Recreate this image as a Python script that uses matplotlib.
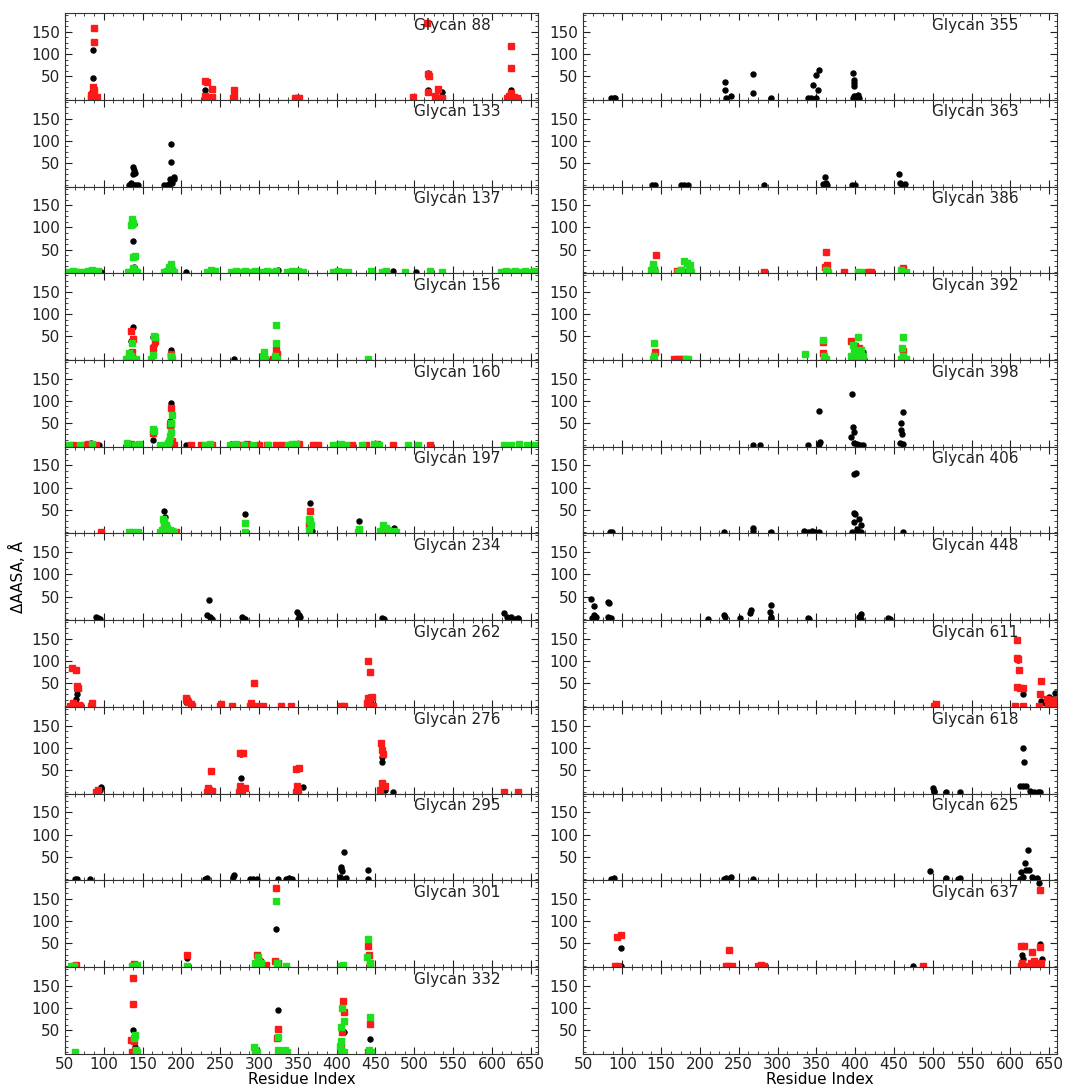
import matplotlib
matplotlib.use('Agg')
import matplotlib.pyplot as plt
from matplotlib.ticker import MultipleLocator

# ---- data: (residue index, delta AASA) per glycan, black / red / green series ----
left_glycans = [88, 133, 137, 156, 160, 197, 234, 262, 276, 295, 301, 332]
right_glycans = [355, 363, 386, 392, 398, 406, 448, 611, 618, 625, 637]

g88_k = [(86, 108), (86, 45), (85, 15), (87, 5), (231, 18), (268, 12), (518, 58), (518, 20), (536, 15), (625, 18), (632, 2)]
g88_r = [(87, 158), (87, 127), (86, 25), (88, 20), (84, 8), (86, 2), (83, 0), (89, 0), (91, 3), (231, 40), (233, 38),
         (230, 5), (232, 0), (240, 22), (239, 3), (268, 18), (268, 3), (267, 0), (346, 2), (349, 0), (351, 2), (498, 3),
         (517, 170), (518, 55), (519, 50), (518, 15), (531, 22), (527, 5), (529, 0), (533, 0), (536, 2), (625, 118),
         (625, 68), (624, 12), (622, 5), (620, 0), (626, 0), (629, 3), (632, 0)]
g88_g = []

g133_k = [(137, 40), (139, 35), (138, 25), (140, 28), (135, 5), (132, 0), (135, 0), (139, 0), (142, 0), (144, 0),
          (186, 93), (186, 52), (185, 15), (190, 18), (178, 0), (181, 0), (184, 2), (188, 5), (190, 15)]
g133_r = []
g133_g = []

g137_k = [(137, 70), (139, 108), (139, 12), (97, 0), (206, 0), (324, 5), (473, 2), (502, 0), (640, 0)]
g137_r = []
g137_g = [(136, 118), (135, 105), (137, 110), (138, 33), (140, 35), (137, 8), (134, 0), (140, 2), (143, 0), (131, 0),
          (186, 18), (184, 10), (178, 0), (181, 2), (188, 5), (190, 0), (55, 0), (60, 2), (65, 0), (68, 0), (75, 0),
          (80, 2), (85, 5), (88, 0), (92, 2), (233, 0), (238, 5), (243, 2), (264, 0), (270, 2), (277, 0), (282, 2),
          (288, 0), (295, 3), (305, 0), (310, 2), (316, 0), (322, 3), (336, 0), (342, 2), (350, 3), (356, 0), (395, 0),
          (402, 2), (408, 0), (414, 0), (444, 2), (458, 0), (463, 2), (488, 0), (520, 2), (536, 0), (612, 0), (618, 2),
          (624, 0), (630, 3), (636, 0), (642, 2), (648, 0), (654, 2), (659, 0)]

g156_k = [(137, 72), (135, 40), (163, 48), (165, 30), (186, 20), (268, 0), (322, 30)]
g156_r = [(135, 62), (137, 45), (136, 15), (134, 5), (130, 0), (138, 0), (163, 25), (166, 40), (186, 10), (187, 5),
          (322, 20), (323, 10), (318, 0)]
g156_g = [(136, 35), (133, 12), (135, 5), (139, 0), (142, 0), (128, 0), (165, 50), (166, 48), (163, 8), (161, 0),
          (186, 5), (188, 0), (306, 15), (305, 5), (308, 0), (322, 75), (322, 35), (321, 5), (323, 0), (440, 0)]

g160_k = [(186, 95), (185, 55), (164, 12), (84, 5), (94, 0), (206, 0), (650, 0), (264, 3)]
g160_r = [(186, 85), (187, 48), (185, 45), (188, 10), (164, 28), (60, 0), (75, 0), (80, 2), (90, 0), (135, 2), (190, 0),
          (212, 0), (225, 0), (240, 0), (275, 0), (285, 2), (300, 0), (310, 0), (322, 0), (330, 0), (352, 2), (370, 0),
          (376, 0), (402, 0), (420, 0), (438, 0), (452, 2), (472, 0), (520, 0)]
g160_g = [(164, 37), (165, 32), (188, 68), (187, 50), (186, 30), (185, 20), (184, 10), (183, 5), (180, 0), (55, 0),
          (70, 0), (85, 3), (130, 5), (140, 0), (145, 2), (172, 0), (230, 0), (237, 2), (262, 0), (270, 2), (280, 0),
          (292, 0), (312, 0), (337, 0), (342, 3), (348, 2), (395, 0), (405, 2), (412, 0), (432, 0), (448, 3), (455, 0),
          (492, 0), (505, 0), (615, 0), (625, 0), (635, 2), (645, 0), (655, 0)]

g197_k = [(177, 48), (179, 35), (282, 40), (366, 65), (368, 3), (429, 25), (474, 10)]
g197_r = [(97, 0), (178, 10), (180, 5), (193, 0), (366, 48), (365, 15), (460, 0)]
g197_g = [(133, 0), (138, 0), (144, 0), (176, 30), (177, 25), (178, 20), (180, 15), (182, 10), (175, 5), (173, 0),
          (185, 5), (188, 2), (190, 0), (282, 20), (282, 0), (365, 30), (366, 25), (367, 15), (364, 5), (429, 8),
          (428, 0), (456, 3), (460, 15), (463, 10), (466, 5), (470, 0), (474, 2), (476, 0)]

g234_k = [(90, 5), (92, 2), (95, 0), (233, 8), (235, 42), (237, 5), (240, 0), (278, 5), (280, 0), (282, 0), (349, 15),
          (351, 8), (353, 5), (350, 0), (459, 2), (461, 0), (616, 12), (620, 5), (625, 3), (630, 0), (634, 2)]
g234_r = []
g234_g = []

g262_k = [(66, 35), (65, 25), (64, 15), (206, 8), (442, 20), (444, 5)]
g262_r = [(59, 85), (64, 80), (66, 45), (67, 40), (57, 0), (60, 5), (63, 0), (68, 2), (70, 0), (85, 5), (84, 0),
          (206, 18), (207, 12), (209, 8), (213, 3), (214, 0), (251, 3), (250, 0), (265, 0), (293, 50), (290, 5),
          (288, 0), (296, 0), (305, 0), (328, 0), (341, 0), (405, 0), (409, 0), (441, 100), (443, 75), (440, 18),
          (442, 15), (439, 5), (440, 0), (446, 20), (447, 0)]
g262_g = []

g276_k = [(97, 12), (95, 5), (233, 0), (277, 85), (277, 33), (275, 10), (356, 12), (349, 0), (458, 80), (459, 68),
          (462, 5), (473, 0)]
g276_r = [(90, 0), (92, 5), (238, 48), (234, 10), (236, 5), (233, 0), (240, 3), (275, 88), (279, 88), (276, 15),
          (278, 5), (274, 0), (282, 10), (348, 52), (352, 55), (349, 15), (350, 5), (347, 0), (457, 110), (459, 95),
          (460, 85), (458, 20), (462, 15), (456, 5), (616, 0), (634, 0)]
g276_g = []

g295_k = [(63, 0), (65, 0), (82, 0), (231, 0), (233, 2), (268, 10), (267, 5), (288, 0), (292, 0), (297, 0), (324, 0),
          (335, 0), (338, 3), (342, 0), (404, 5), (405, 28), (406, 22), (407, 18), (409, 60), (410, 0), (412, 2),
          (440, 20), (440, 0)]
g295_r = []
g295_g = []

g301_k = [(207, 18), (300, 15), (302, 10), (322, 82)]
g301_r = [(61, 0), (64, 2), (137, 0), (139, 3), (207, 25), (297, 25), (300, 10), (305, 0), (309, 2), (322, 175),
          (320, 10), (324, 5), (440, 45), (442, 25), (443, 5)]
g301_g = [(58, 0), (62, 0), (136, 0), (140, 0), (143, 2), (207, 0), (295, 5), (299, 20), (302, 5), (322, 145),
          (323, 5), (335, 0), (405, 0), (408, 2), (441, 60), (439, 20), (443, 5)]

g332_k = [(138, 50), (140, 12), (325, 95), (410, 45), (443, 30)]
g332_r = [(137, 168), (137, 108), (135, 28), (139, 25), (140, 5), (136, 0), (324, 52), (323, 32), (408, 115),
          (410, 92), (407, 45), (406, 10), (405, 0), (443, 65), (440, 0)]
g332_g = [(63, 0), (140, 40), (139, 32), (141, 5), (143, 0), (293, 12), (295, 5), (297, 0), (325, 35), (324, 5),
          (326, 0), (334, 5), (336, 0), (407, 100), (409, 70), (406, 58), (405, 25), (404, 15), (406, 5), (410, 0),
          (443, 80), (442, 5), (444, 0)]

g355_k = [(86, 0), (89, 2), (91, 0), (232, 38), (232, 18), (234, 2), (240, 5), (269, 55), (269, 12), (291, 0),
          (339, 2), (343, 0), (346, 30), (350, 52), (354, 65), (352, 18), (349, 0), (397, 58), (398, 42), (399, 35),
          (399, 28), (398, 5), (397, 0), (400, 3), (403, 8), (405, 2)]
g355_r = []
g355_g = []

g363_k = [(138, 0), (142, 0), (176, 0), (180, 0), (185, 0), (282, 0), (359, 2), (361, 18), (362, 5), (364, 0),
          (396, 0), (400, 0), (457, 25), (458, 5), (460, 0), (464, 2)]
g363_r = []
g363_g = []

g386_k = []
g386_r = [(143, 38), (141, 5), (175, 5), (170, 3), (180, 0), (282, 0), (363, 45), (364, 15), (361, 10), (385, 0),
          (416, 0), (420, 0), (461, 8)]
g386_g = [(139, 18), (140, 10), (137, 5), (138, 0), (142, 0), (172, 0), (176, 5), (180, 25), (183, 20), (187, 15),
          (189, 0), (186, 5), (362, 5), (365, 0), (403, 0), (407, 0), (459, 5), (461, 0), (465, 0)]

g392_k = [(405, 18), (410, 15), (412, 0), (399, 0)]
g392_r = [(142, 15), (167, 0), (170, 0), (174, 0), (178, 0), (358, 38), (358, 12), (360, 0), (395, 40), (400, 28),
          (405, 25), (462, 18)]
g392_g = [(141, 35), (141, 5), (139, 0), (185, 0), (182, 0), (335, 10), (359, 42), (360, 5), (363, 0), (397, 30),
          (398, 20), (400, 15), (402, 10), (395, 5), (404, 0), (403, 48), (407, 20), (410, 5), (461, 48), (460, 25),
          (462, 5), (459, 0), (465, 0)]

g398_k = [(269, 0), (277, 0), (339, 0), (353, 78), (355, 8), (354, 2), (396, 115), (395, 18), (397, 42), (399, 30),
          (398, 5), (402, 2), (406, 0), (410, 0), (459, 50), (459, 35), (460, 25), (458, 5), (462, 75), (462, 2)]
g398_r = []
g398_g = []

g406_k = [(84, 0), (87, 0), (231, 0), (269, 10), (269, 2), (291, 0), (334, 2), (339, 0), (344, 2), (348, 0),
          (354, 0), (399, 130), (401, 132), (398, 43), (400, 40), (405, 30), (399, 22), (407, 15), (402, 8), (404, 3),
          (396, 0), (408, 0), (462, 0)]
g406_r = []
g406_g = []

g448_k = [(60, 45), (61, 2), (63, 28), (63, 8), (64, 0), (66, 5), (82, 38), (83, 35), (81, 5), (84, 0), (86, 2),
          (211, 0), (231, 8), (232, 3), (251, 2), (266, 20), (265, 12), (291, 30), (290, 15), (292, 5), (291, 0),
          (339, 2), (341, 0), (407, 10), (405, 5), (408, 0), (442, 2), (445, 0)]
g448_r = []
g448_g = []

g611_k = [(610, 102), (611, 40), (616, 25), (640, 10), (650, 20), (655, 15), (658, 28), (645, 5)]
g611_r = [(502, 0), (504, 3), (609, 148), (609, 108), (610, 105), (611, 80), (609, 42), (612, 40), (606, 0),
          (616, 40), (616, 0), (640, 55), (638, 25), (637, 0), (647, 15), (650, 10), (653, 5), (656, 12), (659, 8),
          (649, 0), (655, 0), (660, 2)]
g611_g = []

g618_k = [(500, 10), (501, 2), (502, 0), (517, 0), (535, 0), (616, 100), (617, 68), (612, 15), (616, 15), (620, 15),
          (625, 2), (630, 0), (635, 0), (638, 0)]
g618_r = []
g618_g = []

g625_k = [(86, 0), (89, 2), (231, 0), (234, 2), (240, 5), (269, 0), (497, 18), (517, 3), (533, 0), (535, 2),
          (614, 15), (616, 5), (612, 0), (619, 35), (620, 20), (623, 65), (624, 20), (628, 5), (632, 0), (634, 2)]
g625_r = []
g625_g = []

g637_k = [(98, 40), (98, 0), (474, 0), (615, 25), (616, 15), (638, 48), (637, 186), (641, 15), (630, 3)]
g637_r = [(93, 65), (98, 68), (91, 0), (95, 0), (233, 0), (238, 35), (236, 0), (241, 0), (275, 0), (279, 2),
          (283, 0), (488, 0), (614, 45), (617, 45), (615, 5), (613, 0), (620, 0), (628, 30), (630, 10), (626, 5),
          (638, 170), (638, 42), (640, 5), (633, 0)]
g637_g = []

left_data = [(g88_k, g88_r, g88_g), (g133_k, g133_r, g133_g), (g137_k, g137_r, g137_g), (g156_k, g156_r, g156_g),
             (g160_k, g160_r, g160_g), (g197_k, g197_r, g197_g), (g234_k, g234_r, g234_g), (g262_k, g262_r, g262_g),
             (g276_k, g276_r, g276_g), (g295_k, g295_r, g295_g), (g301_k, g301_r, g301_g), (g332_k, g332_r, g332_g)]
right_data = [(g355_k, g355_r, g355_g), (g363_k, g363_r, g363_g), (g386_k, g386_r, g386_g), (g392_k, g392_r, g392_g),
              (g398_k, g398_r, g398_g), (g406_k, g406_r, g406_g), (g448_k, g448_r, g448_g), (g611_k, g611_r, g611_g),
              (g618_k, g618_r, g618_g), (g625_k, g625_r, g625_g), (g637_k, g637_r, g637_g)]

styles = [('black', 'o', 3.6), ('#ff1a1a', 's', 3.8), ('#1fe01f', 's', 3.8)]


def draw_panel(ax, glycan, series):
    for pts, (color, marker, ms) in zip(series, styles):
        if not pts:
            continue
        xs, ys = zip(*pts)
        ax.plot(xs, ys, linestyle='none', marker=marker, color=color, ms=ms, mec=color)
    ax.text(0.737, 0.86, 'Glycan %d' % glycan, transform=ax.transAxes, fontsize=11, va='center', color='#222222')


fig, axes = plt.subplots(12, 2, figsize=(10.65, 10.92), dpi=100, sharex=True)
fig.subplots_adjust(left=0.061, right=0.9925, top=0.988, bottom=0.035, hspace=0, wspace=0.095)

for i in range(12):
    draw_panel(axes[i, 0], left_glycans[i], left_data[i])
    if i < len(right_glycans):
        draw_panel(axes[i, 1], right_glycans[i], right_data[i])

for ax in axes.flat:
    ax.set_xlim(50, 660)
    ax.set_ylim(-3, 192)
    ax.set_yticks([50, 100, 150])
    ax.xaxis.set_major_locator(MultipleLocator(50))
    ax.xaxis.set_minor_locator(MultipleLocator(12.5))
    ax.yaxis.set_minor_locator(MultipleLocator(12.5))
    ax.tick_params(which='both', direction='in', top=True, right=True, labelsize=11, colors='#222222')
    ax.tick_params(which='major', length=5)
    ax.tick_params(which='minor', length=2.5)
    ax.tick_params(axis='x', pad=2)
    for sp in ax.spines.values():
        sp.set_color('#333333')

for ax in axes[-1]:
    ax.set_xlabel('Residue Index', fontsize=11, labelpad=0)
axes[6, 0].set_ylabel('ΔAASA, Å', fontsize=11)

fig.savefig('out.png', dpi=100)
